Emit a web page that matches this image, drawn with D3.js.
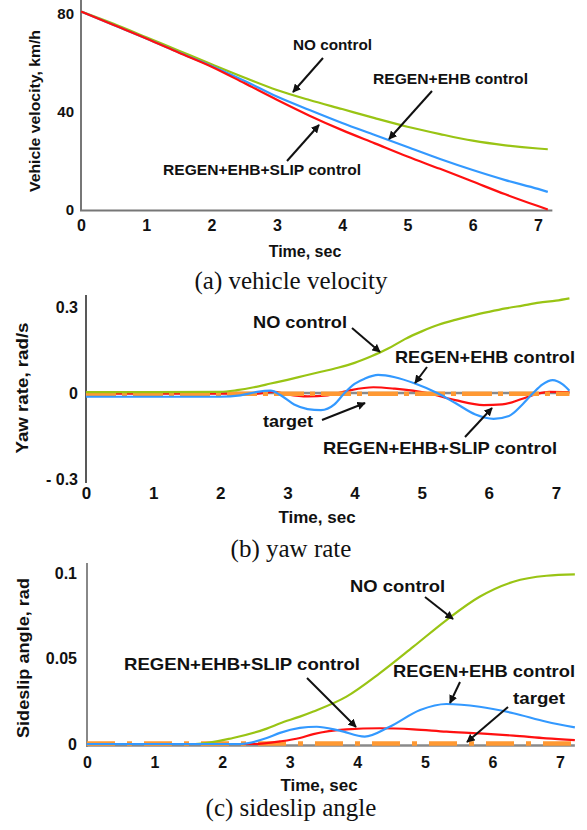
<!DOCTYPE html>
<html><head><meta charset="utf-8">
<script src="https://cdn.jsdelivr.net/npm/d3@7"></script>
<style>
html,body{margin:0;padding:0;background:#fff;}
svg{display:block;}
.lbl{font-family:"Liberation Sans",Arial,sans-serif;font-weight:bold;fill:#111;}
.cap{font-family:"Liberation Serif","Times New Roman",serif;fill:#111;}
</style></head>
<body>
<svg id="chart" width="587" height="830"></svg>
<script>
// ---------------- DATA ----------------
const timeTicks = [0,1,2,3,4,5,6,7];

// (a) vehicle velocity, km/h
const velTime  = [0,0.5,1,1.5,2,2.5,3,3.5,4,4.5,5,5.5,6,6.5,7,7.15];
const velNo    = [81,76,70.5,65,59.5,54.1,49,44.9,41.2,37.5,34,31,28.3,26.4,25.1,24.8];
const velRegen = [81,75.5,70,64.3,58.8,52.8,46.3,40.8,35.5,30.6,25.7,20.8,16.3,12.2,8.6,7.4];
const velSlip  = [81,75.5,70,64.2,58.5,51.8,45,38.5,32.6,27.2,21.8,16.8,11.6,6.4,1.6,0.2];
const velTicks = [0,40,80];

// (b) yaw rate, rad/s
const yawNoTime = [0,1,2,2.25,2.5,2.75,3,3.25,3.5,3.75,4,4.25,4.5,4.75,5,5.25,5.5,5.75,6,6.25,6.5,6.75,7,7.2];
const yawNo     = [0.003,0.003,0.004,0.01,0.02,0.033,0.046,0.06,0.074,0.088,0.105,0.128,0.155,0.188,0.215,0.238,0.255,0.27,0.283,0.295,0.305,0.315,0.322,0.33];
const yawRegenTime = [0,1,2,2.3,2.55,2.75,2.9,3.1,3.3,3.5,3.7,3.85,4.0,4.15,4.35,4.6,4.9,5.23,5.5,5.8,6.07,6.3,6.5,6.66,6.8,6.95,7.1,7.2];
const yawRegen     = [-0.013,-0.013,-0.013,-0.008,0.004,0.008,-0.008,-0.04,-0.056,-0.06,-0.04,0,0.032,0.05,0.063,0.055,0.033,0,-0.035,-0.075,-0.09,-0.08,-0.04,0,0.03,0.045,0.03,0.008];
const yawSlipTime = [0,1,2,2.5,2.8,3.0,3.3,3.6,3.9,4.28,4.6,5.08,5.5,5.92,6.2,6.5,6.72,6.9,7.2];
const yawSlip     = [-0.002,-0.002,-0.002,-0.003,0.004,-0.005,-0.012,-0.008,0.008,0.02,0.015,0,-0.025,-0.042,-0.04,-0.02,-0.003,0.004,0.003];
const yawTargetTime = [0,7.2];
const yawTarget     = [-0.003,-0.003];
const yawTicks = [-0.3,0,0.3];
const yawTickLabels = ["- 0.3","0","0.3"];

// (c) sideslip angle, rad
const slipNoTime = [0,1,1.6,2.16,2.66,2.85,3.15,3.35,3.84,4.33,4.83,5.32,5.81,6.31,6.8,7.22];
const slipNo     = [0,0,0,0.0035,0.009,0.012,0.016,0.019,0.0277,0.0413,0.0569,0.0725,0.0861,0.0949,0.0984,0.0992];
const slipRegenTime = [0,1,2.26,2.66,2.855,3.15,3.4,3.74,4.11,4.48,4.93,5.32,5.81,6.31,6.8,7.22];
const slipRegen     = [0,0,0,0.0035,0.0065,0.0094,0.0101,0.0078,0.0043,0.0101,0.0199,0.0234,0.0218,0.018,0.013,0.0097];
const slipSlipTime = [0,1,2.46,2.855,3.15,3.35,3.84,4.33,4.83,5.32,5.81,6.31,6.8,7.22];
const slipSlip     = [0,0,0,0.0015,0.0035,0.0058,0.0086,0.0092,0.0086,0.0072,0.0062,0.0049,0.0033,0.0023];
const slipTargetTime = [0,7.2];
const slipTarget     = [0.0003,0.0003];
const slipTicks = [0,0.05,0.1];
const slipTickLabels = ["0","0.05","0.1"];

// ---------------- STYLE / LAYOUT ----------------
const COL = {no:"#99c414", regen:"#3399ff", slip:"#ff1010", target:"#ff9933"};
const svg = d3.select("#chart");
const defs = svg.append("defs");
defs.append("marker").attr("id","ah").attr("viewBox","0 0 10 10").attr("refX",9).attr("refY",5)
  .attr("markerWidth",4.2).attr("markerHeight",4.2).attr("orient","auto")
  .append("path").attr("d","M0,0 L10,5 L0,10 Z").attr("fill","#111");

function zip(t,v){return t.map((d,i)=>({t:d,v:v[i]}));}

function panel(cfg){
  const g = svg.append("g");
  const x = d3.scaleLinear().domain([0,7]).range(cfg.xr);
  const y = d3.scaleLinear().domain(cfg.yd).range(cfg.yr);
  cfg.axisLines(g,x,y);
  const ya = d3.axisLeft(y).tickValues(cfg.yticks).tickSize(0).tickPadding(cfg.ypad)
    .tickFormat((d,i)=>cfg.ylabels[i]);
  const yg = g.append("g").attr("transform",`translate(${cfg.yaxX},0)`).call(ya);
  yg.select(".domain").remove();
  yg.selectAll("text").attr("class","lbl").style("font-size",cfg.tfs+"px").attr("fill","#111");
  yg.attr("font-family",null).attr("font-size",null);
  const xa = d3.axisBottom(x).tickValues(timeTicks).tickSize(0).tickPadding(cfg.xpad).tickFormat(d3.format("d"));
  const xg = g.append("g").attr("transform",`translate(0,${cfg.xaxY})`).call(xa);
  xg.select(".domain").remove();
  xg.selectAll("text").attr("class","lbl").style("font-size",cfg.xfs+"px").attr("fill","#111");
  xg.attr("font-family",null).attr("font-size",null);
  const line = d3.line().x(d=>x(d.t)).y(d=>y(d.v)).curve(d3.curveMonotoneX);
  cfg.series.forEach(s=>{
    g.append("path").datum(zip(s.t,s.v)).attr("d",line).attr("fill","none")
      .attr("stroke",s.c).attr("stroke-width",s.w||2.2)
      .attr("stroke-dasharray",s.dash||null).attr("stroke-linecap","butt");
  });
  g.append("text").attr("class","lbl").attr("x",cfg.xt[0]).attr("y",cfg.xt[1])
    .attr("text-anchor","middle").style("font-size",cfg.xtfs+"px").text("Time, sec");
  g.append("text").attr("class","lbl").attr("transform",`translate(${cfg.yt[0]},${cfg.yt[1]}) rotate(-90)`)
    .attr("text-anchor","middle").attr("dy","0.35em").style("font-size",cfg.ytfs+"px")
    .attr("textLength",cfg.yt[2]).attr("lengthAdjust","spacingAndGlyphs").text(cfg.ytitle);
  cfg.ann.forEach(a=>{
    g.append("text").attr("class","lbl").attr("x",a.x).attr("y",a.y).style("font-size",a.fs+"px")
      .attr("textLength",a.len).attr("lengthAdjust","spacingAndGlyphs").text(a.text);
    g.append("line").attr("x1",a.ar[0]).attr("y1",a.ar[1]).attr("x2",a.ar[2]).attr("y2",a.ar[3])
      .attr("stroke","#111").attr("stroke-width",2).attr("marker-end","url(#ah)");
  });
  svg.append("text").attr("class","cap").attr("x",cfg.cap[0]).attr("y",cfg.cap[1]).attr("text-anchor","middle")
    .style("font-size","25px").text(cfg.caption);
}

// (a)
panel({
  xr:[81,538], yd:[0,80], yr:[210,14],
  axisLines:(g,x,y)=>{
    g.append("line").attr("x1",81).attr("x2",81).attr("y1",0).attr("y2",211).attr("stroke","#777").attr("stroke-width",2);
    g.append("line").attr("x1",80).attr("x2",x(7.22)).attr("y1",210.5).attr("y2",210.5).attr("stroke","#777").attr("stroke-width",2);
  },
  yaxX:81, ypad:7, yticks:velTicks, ylabels:velTicks.map(String), tfs:15,
  xaxY:210, xpad:10, xfs:16,
  series:[{t:velTime,v:velNo,c:COL.no},{t:velTime,v:velRegen,c:COL.regen},{t:velTime,v:velSlip,c:COL.slip}],
  xt:[305,257], xtfs:16, yt:[35,111,162], ytfs:15, ytitle:"Vehicle velocity, km/h",
  ann:[
    {text:"NO control", x:293, y:50, len:79, fs:14, ar:[323,58,293,92]},
    {text:"REGEN+EHB control", x:373, y:84, len:155, fs:14, ar:[432,91,389,139]},
    {text:"REGEN+EHB+SLIP control", x:163, y:175, len:198, fs:14, ar:[287,161,319,125]}
  ],
  cap:[291,289], caption:"(a) vehicle velocity"
});

// (b)
panel({
  xr:[86,556], yd:[-0.3,0.3], yr:[479,307],
  axisLines:(g,x,y)=>{
    g.append("line").attr("x1",86).attr("x2",86).attr("y1",295).attr("y2",483).attr("stroke","#222").attr("stroke-width",1.5);
    g.append("line").attr("x1",86).attr("x2",x(7.2)).attr("y1",y(0)).attr("y2",y(0)).attr("stroke","#8a8a8a").attr("stroke-width",2.5);
  },
  yaxX:86, ypad:8, yticks:yawTicks, ylabels:yawTickLabels, tfs:16,
  xaxY:479, xpad:8, xfs:17,
  series:[
    {t:yawSlipTime,v:yawSlip,c:COL.slip},
    {t:yawTargetTime,v:yawTarget,c:COL.target,w:4.5,dash:"30,6,5,6"},
    {t:yawNoTime,v:yawNo,c:COL.no},
    {t:yawRegenTime,v:yawRegen,c:COL.regen}
  ],
  xt:[317,523], xtfs:17, yt:[22,388,131], ytfs:17, ytitle:"Yaw rate, rad/s",
  ann:[
    {text:"NO control", x:253, y:328, len:94, fs:17, ar:[352,328,380,352]},
    {text:"REGEN+EHB control", x:395, y:363, len:180, fs:17, ar:[427,367,415,383]},
    {text:"target", x:263, y:427, len:50, fs:17, ar:[322,420,365,403]},
    {text:"REGEN+EHB+SLIP control", x:323, y:454, len:234, fs:17, ar:[465,437,492,408]}
  ],
  cap:[291,557], caption:"(b) yaw rate"
});

// (c)
panel({
  xr:[87,560], yd:[0,0.1], yr:[744,573],
  axisLines:(g,x,y)=>{
    g.append("line").attr("x1",87).attr("x2",87).attr("y1",563).attr("y2",747).attr("stroke","#888").attr("stroke-width",2);
    g.append("line").attr("x1",86).attr("x2",x(7.22)).attr("y1",745.5).attr("y2",745.5).attr("stroke","#8a8a8a").attr("stroke-width",2.5);
  },
  yaxX:87, ypad:10, yticks:slipTicks, ylabels:slipTickLabels, tfs:16,
  xaxY:744, xpad:13, xfs:16,
  series:[
    {t:slipTargetTime,v:slipTarget,c:COL.target,w:4.5,dash:"28,12,5,12"},
    {t:slipNoTime,v:slipNo,c:COL.no},
    {t:slipSlipTime,v:slipSlip,c:COL.slip},
    {t:slipRegenTime,v:slipRegen,c:COL.regen}
  ],
  xt:[319,791], xtfs:17, yt:[23,658,160], ytfs:17, ytitle:"Sideslip angle, rad",
  ann:[
    {text:"NO control", x:350, y:592, len:95, fs:16.5, ar:[425,597,453,619]},
    {text:"REGEN+EHB+SLIP control", x:124, y:670, len:236, fs:16.5, ar:[307,678,356,727]},
    {text:"REGEN+EHB control", x:393, y:677, len:182, fs:16.5, ar:[460,682,450,703]},
    {text:"target", x:513, y:704, len:52, fs:16.5, ar:[508,707,467,742]}
  ],
  cap:[291,816], caption:"(c) sideslip angle"
});
</script>
</body></html>
